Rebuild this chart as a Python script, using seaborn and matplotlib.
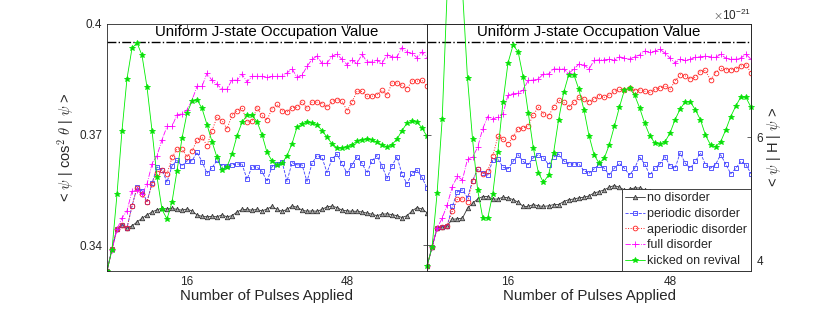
import numpy as np
import pandas as pd
import matplotlib
matplotlib.use("Agg")
import matplotlib.pyplot as plt
import seaborn as sns
from matplotlib.ticker import ScalarFormatter

# ---- data ----
pulses = np.arange(65)
labels = ["no disorder", "periodic disorder", "aperiodic disorder",
          "full disorder", "kicked on revival"]

# left panel: <psi| cos^2 theta |psi>
cos2_none = [0.3330, 0.3390, 0.3445, 0.3455, 0.3447, 0.3452, 0.3463, 0.3473, 0.3482, 0.3490,
             0.3496, 0.3500, 0.3498, 0.3500, 0.3497, 0.3495, 0.3498, 0.3493, 0.3482, 0.3478,
             0.3477, 0.3478, 0.3477, 0.3482, 0.3477, 0.3480, 0.3490, 0.3497, 0.3497, 0.3495,
             0.3497, 0.3493, 0.3498, 0.3505, 0.3497, 0.3492, 0.3497, 0.3506, 0.3503, 0.3495,
             0.3492, 0.3493, 0.3492, 0.3497, 0.3504, 0.3506, 0.3502, 0.3495, 0.3493, 0.3492,
             0.3492, 0.3490, 0.3487, 0.3484, 0.3480, 0.3484, 0.3485, 0.3483, 0.3480, 0.3475,
             0.3480, 0.3493, 0.3502, 0.3498, 0.3488]
cos2_periodic = [0.3330, 0.3390, 0.3445, 0.3455, 0.3447, 0.3506, 0.3557, 0.3548, 0.3518, 0.3568,
                 0.3612, 0.3605, 0.3571, 0.3615, 0.3630, 0.3615, 0.3629, 0.3629, 0.3652, 0.3627,
                 0.3595, 0.3610, 0.3630, 0.3615, 0.3615, 0.3618, 0.3620, 0.3620, 0.3579, 0.3613,
                 0.3612, 0.3600, 0.3573, 0.3613, 0.3621, 0.3627, 0.3573, 0.3624, 0.3618, 0.3618,
                 0.3573, 0.3622, 0.3643, 0.3638, 0.3597, 0.3634, 0.3647, 0.3622, 0.3595, 0.3618,
                 0.3640, 0.3622, 0.3596, 0.3629, 0.3643, 0.3615, 0.3581, 0.3615, 0.3640, 0.3593,
                 0.3566, 0.3595, 0.3604, 0.3584, 0.3555]
cos2_aperiodic = [0.3330, 0.3390, 0.3445, 0.3455, 0.3447, 0.3506, 0.3556, 0.3538, 0.3518, 0.3566,
                  0.3597, 0.3604, 0.3593, 0.3638, 0.3661, 0.3661, 0.3640, 0.3656, 0.3684, 0.3693,
                  0.3670, 0.3711, 0.3747, 0.3738, 0.3716, 0.3752, 0.3765, 0.3773, 0.3734, 0.3736,
                  0.3773, 0.3752, 0.3740, 0.3770, 0.3782, 0.3765, 0.3761, 0.3773, 0.3774, 0.3788,
                  0.3772, 0.3788, 0.3788, 0.3784, 0.3774, 0.3790, 0.3795, 0.3791, 0.3765, 0.3788,
                  0.3818, 0.3817, 0.3804, 0.3804, 0.3808, 0.3820, 0.3808, 0.3840, 0.3840, 0.3834,
                  0.3825, 0.3845, 0.3845, 0.3847, 0.3831]
cos2_full = [0.3330, 0.3387, 0.3443, 0.3474, 0.3493, 0.3547, 0.3549, 0.3538, 0.3566, 0.3620,
             0.3643, 0.3686, 0.3722, 0.3722, 0.3754, 0.3756, 0.3767, 0.3793, 0.3831, 0.3831,
             0.3866, 0.3847, 0.3836, 0.3823, 0.3823, 0.3849, 0.3847, 0.3864, 0.3843, 0.3858,
             0.3858, 0.3858, 0.3855, 0.3858, 0.3858, 0.3858, 0.3867, 0.3879, 0.3855, 0.3861,
             0.3885, 0.3904, 0.3913, 0.3893, 0.3894, 0.3913, 0.3918, 0.3904, 0.3890, 0.3902,
             0.3893, 0.3918, 0.3897, 0.3897, 0.3902, 0.3893, 0.3917, 0.3911, 0.3911, 0.3936,
             0.3924, 0.3920, 0.3909, 0.3924, 0.3909]
cos2_kicked = [0.3330, 0.3388, 0.3538, 0.3711, 0.3852, 0.3934, 0.3949, 0.3915, 0.3829, 0.3711,
               0.3585, 0.3497, 0.3471, 0.3517, 0.3602, 0.3690, 0.3758, 0.3791, 0.3795, 0.3771,
               0.3727, 0.3681, 0.3638, 0.3604, 0.3613, 0.3647, 0.3697, 0.3733, 0.3753, 0.3752,
               0.3735, 0.3700, 0.3652, 0.3629, 0.3618, 0.3622, 0.3643, 0.3675, 0.3720, 0.3729,
               0.3734, 0.3732, 0.3727, 0.3711, 0.3693, 0.3675, 0.3664, 0.3663, 0.3667, 0.3673,
               0.3682, 0.3686, 0.3688, 0.3686, 0.3679, 0.3672, 0.3667, 0.3673, 0.3688, 0.3711,
               0.3731, 0.3736, 0.3734, 0.3718, 0.3695]

# right panel: <psi| H |psi>, in units of 1e-21
energy_scale = 1e-21
energy_none = [3.90, 4.21, 4.52, 4.54, 4.56, 4.66, 4.67, 4.68, 4.84, 4.92,
               4.99, 5.03, 5.03, 4.99, 4.99, 5.02, 5.01, 4.98, 4.94, 4.87,
               4.87, 4.90, 4.88, 4.87, 4.88, 4.90, 4.90, 4.95, 4.98, 4.99,
               5.01, 5.02, 5.04, 5.09, 5.11, 5.14, 5.18, 5.21, 5.18, 5.14,
               5.15, 5.17, 5.17, 5.14, 5.12, 5.10, 5.08, 5.06, 5.05, 5.03,
               5.02, 5.00, 4.99, 4.98, 4.99, 5.00, 4.98, 4.97, 4.96, 4.98,
               5.00, 4.99, 4.98, 4.97, 4.99]
energy_periodic = [3.90, 4.21, 4.52, 4.54, 4.56, 4.87, 5.11, 5.14, 5.01, 5.29,
                   5.47, 5.41, 5.38, 5.62, 5.64, 5.51, 5.48, 5.60, 5.71, 5.60,
                   5.55, 5.66, 5.71, 5.66, 5.55, 5.67, 5.72, 5.61, 5.56, 5.56,
                   5.56, 5.45, 5.41, 5.48, 5.55, 5.49, 5.38, 5.49, 5.57, 5.49,
                   5.38, 5.49, 5.67, 5.56, 5.38, 5.49, 5.56, 5.68, 5.53, 5.49,
                   5.74, 5.57, 5.49, 5.60, 5.74, 5.55, 5.49, 5.55, 5.71, 5.56,
                   5.40, 5.49, 5.60, 5.55, 5.40]
energy_aperiodic = [3.90, 4.21, 4.52, 4.54, 4.56, 4.79, 4.99, 4.99, 4.94, 5.28,
                    5.47, 5.40, 5.45, 5.69, 6.01, 5.96, 5.89, 6.00, 6.13, 6.14,
                    6.18, 6.36, 6.48, 6.37, 6.34, 6.48, 6.60, 6.56, 6.48, 6.56,
                    6.64, 6.61, 6.57, 6.61, 6.67, 6.64, 6.68, 6.74, 6.77, 6.76,
                    6.79, 6.75, 6.76, 6.74, 6.72, 6.77, 6.79, 6.83, 6.77, 6.91,
                    7.01, 6.99, 6.94, 6.97, 7.06, 7.08, 6.92, 7.04, 7.11, 7.09,
                    7.09, 7.10, 7.15, 7.17, 7.04]
energy_full = [3.90, 4.21, 4.52, 4.68, 4.90, 5.19, 5.36, 5.30, 5.64, 5.67,
               5.83, 6.13, 6.33, 6.29, 6.32, 6.37, 6.68, 6.70, 6.71, 6.76,
               6.92, 6.92, 6.94, 7.02, 7.02, 7.10, 7.10, 7.10, 7.03, 7.10,
               7.18, 7.17, 7.10, 7.24, 7.25, 7.25, 7.26, 7.24, 7.30, 7.28,
               7.26, 7.30, 7.33, 7.39, 7.38, 7.39, 7.42, 7.36, 7.28, 7.20,
               7.26, 7.24, 7.26, 7.29, 7.30, 7.31, 7.30, 7.29, 7.34, 7.28,
               7.26, 7.26, 7.28, 7.34, 7.26]
energy_kicked = [3.90, 4.21, 5.09, 6.29, 8.40, 9.20, 9.20, 8.40, 6.95, 5.96,
                 5.14, 4.69, 4.68, 5.08, 5.76, 6.56, 7.20, 7.49, 7.38, 6.97,
                 6.39, 5.82, 5.42, 5.26, 5.38, 5.74, 6.28, 6.72, 7.01, 7.01,
                 6.77, 6.44, 6.02, 5.71, 5.57, 5.65, 5.87, 6.17, 6.48, 6.76,
                 6.79, 6.68, 6.47, 6.22, 6.02, 5.90, 5.88, 5.92, 6.06, 6.28,
                 6.45, 6.57, 6.57, 6.44, 6.28, 6.03, 5.87, 5.84, 5.92, 6.11,
                 6.33, 6.50, 6.65, 6.64, 6.48]

uniform_value = 0.3951
uniform_label = "Uniform J-state Occupation Value"

cos2_series = [cos2_none, cos2_periodic, cos2_aperiodic, cos2_full, cos2_kicked]
energy_series = [energy_none, energy_periodic, energy_aperiodic, energy_full, energy_kicked]

df_cos2 = pd.concat([pd.DataFrame({"pulse": pulses, "value": v, "case": lab})
                     for v, lab in zip(cos2_series, labels)])
df_energy = pd.concat([pd.DataFrame({"pulse": pulses, "value": np.array(v) * energy_scale, "case": lab})
                       for v, lab in zip(energy_series, labels)])

# ---- style ----
sns.set_style("white")
plt.rcParams["font.family"] = ["Liberation Sans", "DejaVu Sans"]
plt.rcParams["mathtext.fontset"] = "cm"
ink = "#262626"

styles = {
    "no disorder": dict(color="#333333", marker="^", linestyle="-", markersize=3.2,
                        markerfacecolor="#aaaaaa", linewidth=0.6),
    "periodic disorder": dict(color="#3d3dff", marker="s", linestyle="--", markersize=2.6,
                              markerfacecolor="none", linewidth=0.6),
    "aperiodic disorder": dict(color="#ff2020", marker="o", linestyle=":", markersize=3.4,
                               markerfacecolor="none", linewidth=0.7),
    "full disorder": dict(color="#ff00ff", marker="+", linestyle="-.", markersize=4.5,
                          linewidth=0.6),
    "kicked on revival": dict(color="#00ee00", marker="*", linestyle="-", markersize=3.8,
                              markerfacecolor="#22bb22", linewidth=0.6),
}

fig = plt.figure(figsize=(8.3, 3.1), dpi=100)
ax1 = fig.add_axes([107 / 830, 39 / 310, 320 / 830, 247 / 310])
ax2 = fig.add_axes([427 / 830, 39 / 310, 324 / 830, 247 / 310], sharey=ax1)
ax2r = ax2.twinx()


def draw(ax, df, clip=True):
    for lab in labels:
        st = dict(styles[lab])
        sub = df[df["case"] == lab]
        sns.lineplot(data=sub, x="pulse", y="value", ax=ax, label=lab,
                     markeredgecolor=st["color"], markeredgewidth=0.6,
                     clip_on=clip if lab == "kicked on revival" else True, **st)


draw(ax1, df_cos2)
draw(ax2r, df_energy, clip=False)

for ax in (ax1, ax2):
    ax.axhline(uniform_value, color="black", linestyle="-.", linewidth=1.0, zorder=1)
    ax.text(0.5, 0.966, uniform_label, transform=ax.transAxes, ha="center", va="center",
            fontsize=10.8, color="black")

for ax in (ax1, ax2, ax2r):
    ax.set_xlim(0, 64)
    ax.set_xticks([16, 48])
    for sp in ax.spines.values():
        sp.set_color(ink)
        sp.set_linewidth(0.6)
    ax.set_xlabel("")
    ax.set_ylabel("")

ax1.set_ylim(0.333, 0.4)
ax1.set_yticks([0.34, 0.37, 0.4])
ax1.set_yticklabels(["0.34", "0.37", "0.4"])
ax1.tick_params(direction="in", length=3, width=0.5, colors=ink, labelsize=8.5,
                top=True, right=True, labelcolor=ink)
ax2.tick_params(direction="in", length=3, width=0.5, colors=ink, labelsize=8.5,
                top=True, left=True, right=False, labelleft=False)

ax2r.set_ylim(3.822e-21, 7.832e-21)
ax2r.set_yticks([4e-21, 6e-21])
fmt = ScalarFormatter(useMathText=True)
fmt.set_powerlimits((0, 0))
ax2r.yaxis.set_major_formatter(fmt)
ax2r.yaxis.get_offset_text().set_fontsize(8.5)
ax2r.yaxis.get_offset_text().set_color(ink)
ax2r.tick_params(direction="in", length=3, width=0.5, colors=ink, labelsize=8.5)

for ax in (ax1, ax2):
    ax.set_xlabel("Number of Pulses Applied", fontsize=10.8, color=ink, labelpad=1)

ax1.set_ylabel(r"< $\psi$ | cos$^2$ $\theta$ | $\psi$ >", fontsize=10.5, color=ink)
ax1.yaxis.set_label_coords(-0.097, 0.5)
ax2r.set_ylabel(r"< $\psi$ | H | $\psi$ >", fontsize=10.5, color=ink)
ax2r.yaxis.set_label_coords(1.043, 0.5)

if ax1.get_legend() is not None:
    ax1.get_legend().remove()
leg = ax2r.legend(loc="lower right", fontsize=9, frameon=True, fancybox=False,
                  framealpha=1, edgecolor=ink, borderaxespad=0, borderpad=0.3,
                  labelspacing=0.3, handlelength=1.6, handletextpad=0.15)
leg.get_frame().set_linewidth(0.6)

fig.savefig("out.png", dpi=100)
